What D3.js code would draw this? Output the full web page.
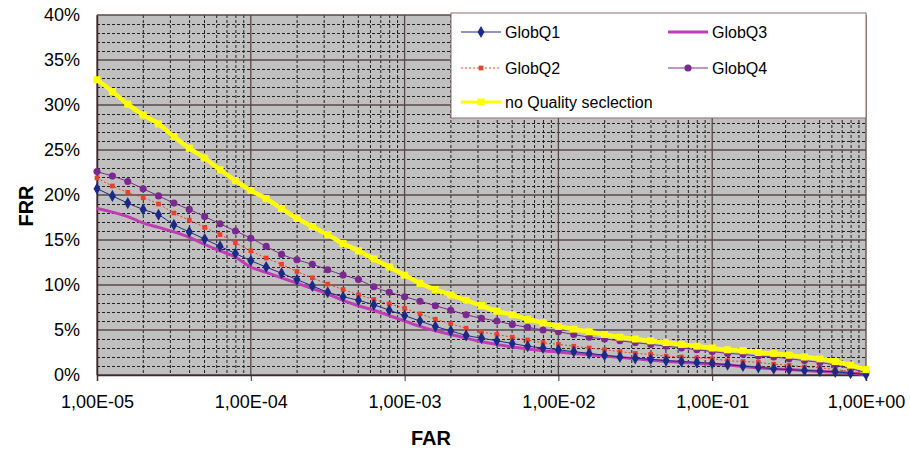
<!DOCTYPE html>
<html>
<head>
<meta charset="utf-8">
<script src="https://cdn.jsdelivr.net/npm/d3@7"></script>
<style>
  body { margin: 0; background: #fff; }
  text { font-family: "Liberation Sans", Arial, sans-serif; fill: #000; }
</style>
</head>
<body>
<div class="chart"></div>
<script>
// exponent of FAR (log10), one point every 0.1 decade
var farExp = [-5, -4.9, -4.8, -4.7, -4.6, -4.5, -4.4, -4.3, -4.2, -4.1,
  -4, -3.9, -3.8, -3.7, -3.6, -3.5, -3.4, -3.3, -3.2, -3.1,
  -3, -2.9, -2.8, -2.7, -2.6, -2.5, -2.4, -2.3, -2.2, -2.1,
  -2, -1.9, -1.8, -1.7, -1.6, -1.5, -1.4, -1.3, -1.2, -1.1,
  -1, -0.9, -0.8, -0.7, -0.6, -0.5, -0.4, -0.3, -0.2, -0.1, 0];

// FRR in %
var globQ1 = [20.7, 19.9, 19.1, 18.4, 17.8, 16.7, 15.9, 15.1, 14.3, 13.5,
  12.7, 12.0, 11.3, 10.6, 9.9, 9.2, 8.7, 8.3, 7.8, 7.2,
  6.6, 6.0, 5.4, 4.9, 4.4, 4.1, 3.8, 3.5, 3.2, 3.0,
  2.8, 2.6, 2.4, 2.2, 2.0, 1.85, 1.75, 1.6, 1.5, 1.4,
  1.3, 1.15, 1.0, 0.85, 0.7, 0.6, 0.5, 0.45, 0.35, 0.2, 0.05];
var globQ2 = [21.9, 21.0, 20.3, 19.7, 19.0, 18.0, 17.2, 16.4, 15.6, 14.7,
  13.8, 13.0, 12.3, 11.5, 10.8, 10.1, 9.5, 8.9, 8.4, 7.9,
  7.4, 6.8, 6.2, 5.7, 5.2, 4.8, 4.5, 4.2, 3.9, 3.6,
  3.4, 3.2, 3.0, 2.8, 2.6, 2.4, 2.3, 2.1, 2.0, 1.9,
  1.8, 1.6, 1.5, 1.4, 1.2, 1.1, 0.9, 0.8, 0.6, 0.4, 0.1];
var globQ3 = [18.5, 18.1, 17.6, 16.9, 16.4, 15.9, 15.3, 14.5, 13.8, 13.1,
  12.0, 11.4, 10.8, 10.2, 9.6, 9.0, 8.3, 7.7, 7.2, 6.6,
  6.0, 5.4, 4.9, 4.5, 4.1, 3.7, 3.4, 3.1, 2.9, 2.7,
  2.55, 2.4, 2.25, 2.1, 1.95, 1.8, 1.65, 1.5, 1.4, 1.3,
  1.2, 1.1, 0.95, 0.8, 0.7, 0.6, 0.5, 0.4, 0.3, 0.2, 0.05];
var globQ4 = [22.6, 22.1, 21.5, 20.7, 19.9, 19.1, 18.4, 17.6, 16.8, 16.0,
  15.2, 14.3, 13.4, 12.8, 12.3, 11.7, 11.1, 10.6, 9.8, 9.2,
  8.7, 8.2, 7.7, 7.2, 6.7, 6.3, 6.0, 5.6, 5.3, 5.0,
  4.8, 4.5, 4.2, 4.0, 3.8, 3.6, 3.4, 3.2, 3.0, 2.8,
  2.6, 2.4, 2.3, 2.1, 2.0, 1.8, 1.6, 1.4, 1.1, 0.7, 0.3];
var noQuality = [32.8, 31.5, 30.1, 28.9, 27.9, 26.5, 25.2, 24.1, 22.8, 21.6,
  20.5, 19.6, 18.5, 17.4, 16.5, 15.6, 14.6, 13.8, 12.9, 12.0,
  11.1, 10.2, 9.5, 8.9, 8.3, 7.7, 7.1, 6.7, 6.2, 5.8,
  5.4, 5.1, 4.8, 4.5, 4.2, 4.0, 3.8, 3.6, 3.4, 3.2,
  3.0, 2.8, 2.7, 2.5, 2.4, 2.2, 2.0, 1.8, 1.5, 1.1, 0.6];

var xTickLabels = ["1,00E-05", "1,00E-04", "1,00E-03", "1,00E-02", "1,00E-01", "1,00E+00"];
var yTickLabels = ["0%", "5%", "10%", "15%", "20%", "25%", "30%", "35%", "40%"];

var svgWidth = 910;
var svgHeight = 449;
var margin = { top: 15, right: 44, bottom: 74, left: 97 };
var width = svgWidth - margin.left - margin.right;
var height = svgHeight - margin.top - margin.bottom;

var svg = d3.select(".chart").append("svg")
  .attr("width", svgWidth)
  .attr("height", svgHeight);

var chartGroup = svg.append("g")
  .attr("transform", `translate(${margin.left}, ${margin.top})`);

var xScale = d3.scaleLog().domain([1e-5, 1]).range([0, width]);
var yScale = d3.scaleLinear().domain([0, 40]).range([height, 0]);

// plot background
chartGroup.append("rect")
  .attr("width", width).attr("height", height)
  .attr("fill", "#c0c0c0");

// minor grid lines (dashed)
var minorX = [];
[-5, -4, -3, -2, -1].forEach(function(e) {
  for (var m = 2; m <= 9; m++) minorX.push(m * Math.pow(10, e));
});
chartGroup.selectAll(".minorX").data(minorX).enter().append("line")
  .attr("x1", d => xScale(d)).attr("x2", d => xScale(d))
  .attr("y1", 0).attr("y2", height)
  .attr("stroke", "#202020").attr("stroke-width", 1)
  .attr("stroke-dasharray", "3,2");

var minorY = d3.range(1, 40).filter(d => d % 5 !== 0);
chartGroup.selectAll(".minorY").data(minorY).enter().append("line")
  .attr("x1", 0).attr("x2", width)
  .attr("y1", d => Math.round(yScale(d)) + 0.5).attr("y2", d => Math.round(yScale(d)) + 0.5)
  .attr("stroke", "#202020").attr("stroke-width", 1)
  .attr("stroke-dasharray", "3,2");

// major grid lines (solid)
var majorX = [1e-5, 1e-4, 1e-3, 1e-2, 1e-1, 1];
chartGroup.selectAll(".majorX").data(majorX).enter().append("line")
  .attr("x1", d => xScale(d)).attr("x2", d => xScale(d))
  .attr("y1", 0).attr("y2", height)
  .attr("stroke", "#5a4848").attr("stroke-width", 1.3);

var majorY = d3.range(0, 41, 5);
chartGroup.selectAll(".majorY").data(majorY).enter().append("line")
  .attr("x1", 0).attr("x2", width)
  .attr("y1", d => yScale(d)).attr("y2", d => yScale(d))
  .attr("stroke", "#5a4848").attr("stroke-width", 1.3);

// axes
var xAxis = d3.axisBottom(xScale).tickValues(majorX)
  .tickFormat((d, i) => xTickLabels[i]).tickSize(6).tickPadding(14);
var yAxis = d3.axisLeft(yScale).tickValues(majorY)
  .tickFormat((d, i) => yTickLabels[i]).tickSize(0).tickPadding(17);

var gx = chartGroup.append("g")
  .attr("transform", `translate(0, ${height})`)
  .call(xAxis);
gx.select(".domain").attr("stroke", "#3a2a2a").attr("stroke-width", 1.5);
gx.selectAll(".tick line").attr("stroke", "#3a2a2a");
gx.selectAll("text").attr("font-size", "18px")
  .attr("font-family", "Liberation Sans, Arial, sans-serif");

var gy = chartGroup.append("g").call(yAxis);
gy.select(".domain").attr("stroke", "#3a2a2a").attr("stroke-width", 1.5);
gy.selectAll("text").attr("font-size", "18px")
  .attr("font-family", "Liberation Sans, Arial, sans-serif");

// series
var series = [
  { name: "GlobQ3", values: globQ3, color: "#c03cb4", width: 3, dash: null, marker: null },
  { name: "GlobQ4", values: globQ4, color: "#7a2a8e", width: 1, dash: null, marker: "circle" },
  { name: "GlobQ2", values: globQ2, color: "#e8402a", width: 1, dash: "2,2", marker: "square" },
  { name: "GlobQ1", values: globQ1, color: "#1c2a86", width: 1, dash: null, marker: "diamond" },
  { name: "no Quality seclection", values: noQuality, color: "#ffff00", width: 4.5, dash: null, marker: "bigsquare" }
];

var line = d3.line()
  .x(d => xScale(d.far))
  .y(d => yScale(d.frr))
  .curve(d3.curveMonotoneX);

function markerPath(type) {
  if (type === "circle") return d3.symbol(d3.symbolCircle, 40)();
  if (type === "square") return d3.symbol(d3.symbolSquare, 22)();
  if (type === "diamond") return d3.symbol(d3.symbolDiamond, 42)();
  if (type === "bigsquare") return d3.symbol(d3.symbolSquare, 50)();
  return null;
}

series.forEach(function(s) {
  var pts = farExp.map((e, i) => ({ far: Math.pow(10, e), frr: s.values[i] }));
  var g = chartGroup.append("g");
  g.append("path")
    .datum(pts)
    .attr("fill", "none")
    .attr("stroke", s.color)
    .attr("stroke-width", s.width)
    .attr("stroke-dasharray", s.dash)
    .attr("d", line);
  if (s.marker) {
    g.selectAll("path.mk").data(pts).enter().append("path")
      .attr("class", "mk")
      .attr("d", markerPath(s.marker))
      .attr("transform", d => `translate(${xScale(d.far)}, ${yScale(d.frr)})`)
      .attr("fill", s.color);
  }
});

// legend
var legend = svg.append("g").attr("transform", "translate(451, 13)");
legend.append("rect")
  .attr("width", 415).attr("height", 105)
  .attr("fill", "#fff").attr("stroke", "#8a6a6a").attr("stroke-width", 1);

var legendItems = [
  { s: series[3], x: 10, y: 19 },
  { s: series[0], x: 217, y: 19 },
  { s: series[2], x: 10, y: 55 },
  { s: series[1], x: 217, y: 55 },
  { s: series[4], x: 10, y: 89 }
];
legendItems.forEach(function(it) {
  var s = it.s;
  var g = legend.append("g").attr("transform", `translate(${it.x}, ${it.y})`);
  g.append("line")
    .attr("x1", 0).attr("x2", 40).attr("y1", 0).attr("y2", 0)
    .attr("stroke", s.color)
    .attr("stroke-width", s.marker === "bigsquare" ? 3 : s.width)
    .attr("stroke-dasharray", s.dash);
  if (s.marker) {
    g.append("path").attr("d", markerPath(s.marker))
      .attr("transform", "translate(20, 0)").attr("fill", s.color);
  }
  g.append("text").attr("x", 44).attr("y", 6)
    .attr("font-size", "16px").text(s.name);
});

// axis titles
svg.append("text")
  .attr("transform", "translate(33, 206) rotate(-90)")
  .attr("text-anchor", "middle")
  .attr("font-size", "20px").attr("font-weight", "bold")
  .text("FRR");

svg.append("text")
  .attr("x", 431).attr("y", 445)
  .attr("text-anchor", "middle")
  .attr("font-size", "20px").attr("font-weight", "bold")
  .text("FAR");
</script>
</body>
</html>
